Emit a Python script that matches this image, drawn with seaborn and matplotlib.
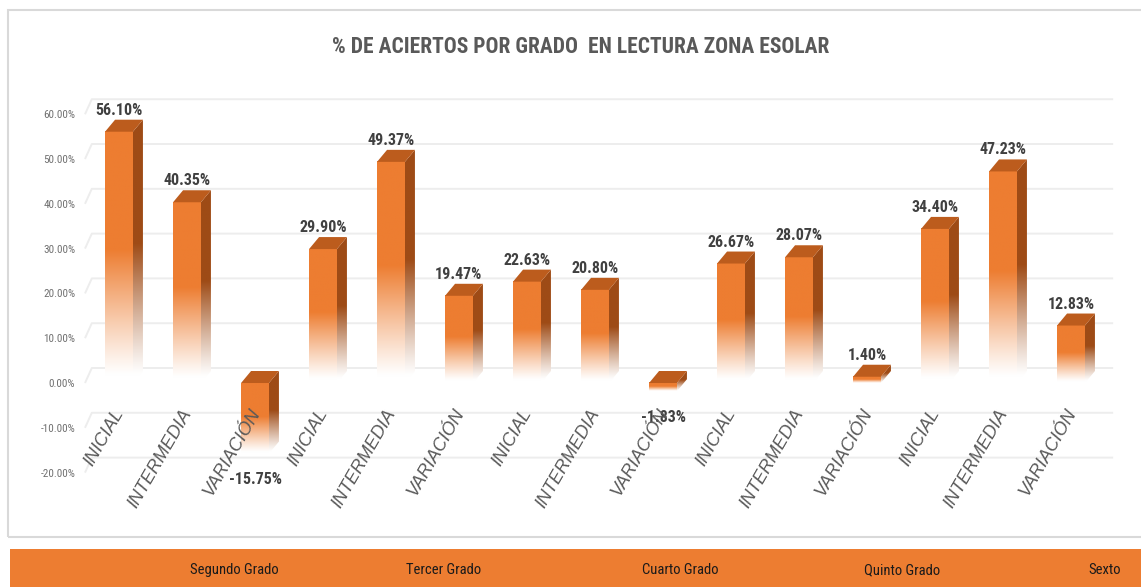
import numpy as np
import pandas as pd
import matplotlib
matplotlib.use("Agg")
import matplotlib.pyplot as plt
import matplotlib.transforms as mtransforms
from matplotlib.patches import Polygon, Rectangle
from matplotlib import font_manager
import seaborn as sns

# ---- data ----
niveles = ["INICIAL", "INTERMEDIA", "VARIACIÓN"] * 5
porcentajes = [56.10, 40.35, -15.75, 29.90, 49.37, 19.47, 22.63, 20.80,
               -1.83, 26.67, 28.07, 1.40, 34.40, 47.23, 12.83]
grados = ["Segundo Grado", "Tercer Grado", "Cuarto Grado", "Quinto Grado", "Sexto"]
y_ticks = [-20, -10, 0, 10, 20, 30, 40, 50, 60]
titulo = "% DE ACIERTOS POR GRADO  EN LECTURA ZONA ESOLAR"

# ---- style ----
sns.set_theme(style="white")
installed = {f.name for f in font_manager.fontManager.ttflist}


def pick(*names):
    for n in names:
        if n in installed:
            return n
    return "DejaVu Sans"


narrow = pick("Liberation Sans Narrow", "Roboto Condensed", "Liberation Sans")
plain = pick("Liberation Sans", "DejaVu Sans")
plt.rcParams["font.family"] = [narrow, "DejaVu Sans"]

NARANJA = np.array([0xED, 0x7D, 0x31]) / 255
LATERAL = np.array([0x9E, 0x4B, 0x16]) / 255
SUPERIOR = "#BC5C1D"
GRIS_TXT = "#595959"

W, H = 1141, 587
fig = plt.figure(figsize=(W / 100, H / 100), dpi=100)


def fx(px):
    return px / W


def fy(py):
    return 1 - py / H


# axes placed so that the category/value scales line up with the panel
ax = fig.add_axes([fx(85), fy(495), fx(1020), (495 - 78.4) / H])
df = pd.DataFrame({"pos": range(len(porcentajes)), "valor": porcentajes})
sns.barplot(data=df, x="pos", y="valor", width=0.41, color="#ED7D31",
            saturation=1, ax=ax, errorbar=None)

DX, DY = 0.147, 2.68        # bar depth (data units)
WX, WY = 0.10, 3.35         # back-wall offset for the gridlines


def shade(color, n, solid_from=0.5):
    """Vertical colour ramp from white (bottom) to `color` (top)."""
    t = np.linspace(0, 1, n)
    a = np.clip((t - 0.03) / solid_from, 0, 1) ** 1.1
    rgb = (1 - a)[:, None] * np.ones(3) + a[:, None] * color[None, :]
    return rgb[:, None, :]


# back-wall gridlines
for lvl in y_ticks:
    ax.plot([-0.5, -0.5 + WX, 14.62], [lvl, lvl + WY, lvl + WY],
            color="#EDEDED", lw=1.4, zorder=0.5, clip_on=False,
            solid_capstyle="butt")

for p, v in zip(ax.patches, porcentajes):
    x0, w = p.get_x(), p.get_width()
    x1 = x0 + w
    lo, hi = (0.0, v) if v >= 0 else (v, 0.0)
    p.set_facecolor("none")
    p.set_edgecolor("none")

    # front face
    ax.imshow(shade(NARANJA, 200), extent=(x0, x1, lo, hi), origin="lower",
              aspect="auto", zorder=2, interpolation="bilinear")
    # right side face
    side = Polygon([(x1, lo), (x1, hi), (x1 + DX, hi + DY), (x1 + DX, lo + DY)],
                   closed=True, facecolor="none", edgecolor="none")
    ax.add_patch(side)
    im = ax.imshow(shade(LATERAL, 200), extent=(x1, x1 + DX, lo, hi + DY),
                   origin="lower", aspect="auto", zorder=2,
                   interpolation="bilinear")
    im.set_clip_path(side)
    # top face
    ax.add_patch(Polygon([(x0, hi), (x1, hi), (x1 + DX, hi + DY), (x0 + DX, hi + DY)],
                         closed=True, facecolor=SUPERIOR, edgecolor="none",
                         zorder=3))

    # value label
    cx = x0 + w / 2
    off = 15.5 if v >= 0 else -19
    ax.annotate(f"{v:.2f}%", xy=(cx, v), xytext=(0, off),
                textcoords="offset points", ha="center", va="center",
                fontsize=11.5, fontweight="bold", color="#404040", zorder=6)

ax.set_xlim(-0.5, 14.5)
ax.set_ylim(-25, 68)

ax.set_yticks(y_ticks)
ax.set_yticklabels([f"{t:.2f}%" for t in y_ticks])
ax.tick_params(axis="y", length=0, pad=7, labelsize=8, labelcolor="#707070")

ax.set_xticks(range(len(niveles)))
ax.set_xticklabels(niveles, rotation=60, ha="right", va="top",
                   rotation_mode="anchor", fontstyle="italic", family=plain,
                   fontsize=13, color=GRIS_TXT)
ax.tick_params(axis="x", length=0, pad=0)
shift = mtransforms.ScaledTranslation(-6 / 100, 89 / 100, fig.dpi_scale_trans)
for lab in ax.get_xticklabels():
    lab.set_transform(lab.get_transform() + shift)
ax.xaxis.set_zorder(8)

ax.set_xlabel("")
ax.set_ylabel("")
for s in ax.spines.values():
    s.set_visible(False)
ax.set_facecolor("none")

# chart panel frame
fig.add_artist(Rectangle((fx(8), fy(537)), fx(1141), (537 - 10) / H,
                         transform=fig.transFigure, facecolor="none",
                         edgecolor="#D9D9D9", lw=1.5, zorder=0))

# grade band
fig.add_artist(Rectangle((fx(10), 0), 1, fy(549), transform=fig.transFigure,
                         facecolor="#ED7D31", edgecolor="none", zorder=1))
for g, gx in zip(grados, [234, 444, 680, 902, 1105]):
    fig.text(fx(gx), fy(570), g, ha="center", va="center", fontsize=10.5,
             color="#1A1A1A", zorder=2)

fig.text(fx(581), fy(47), titulo, ha="center", va="center", fontsize=15.5,
         fontweight="bold", color=GRIS_TXT)

fig.savefig("out.png", dpi=100)
